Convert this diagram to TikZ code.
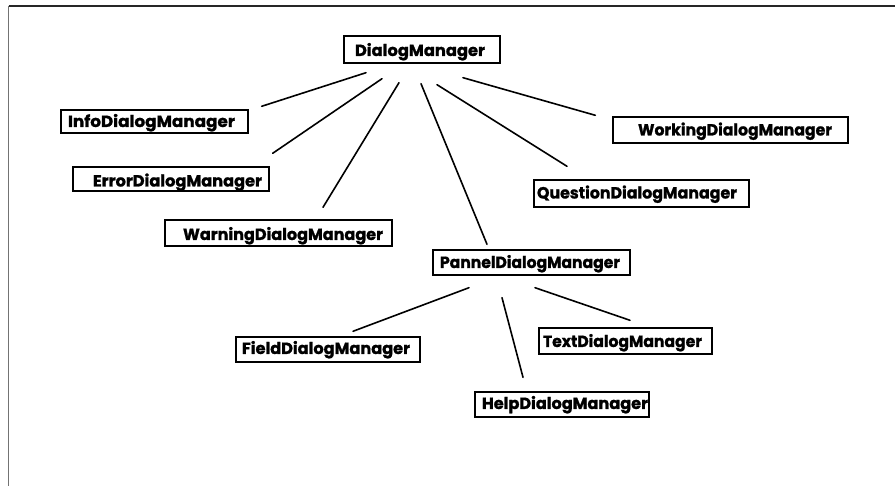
\documentclass[tikz,border=0pt]{standalone}
\usepackage{fontspec}
\usepackage{graphicx}
\newfontfamily\lblfont{Poppins}[BoldFeatures={FakeBold=1.2}]
% #1 box width, #2 left pad, #3 text width, #4 baseline below centre, #5 text
\newcommand\lbl[5]{\makebox[#1pt][l]{\hspace*{#2pt}\smash{\raisebox{-#4pt}{\resizebox{#3pt}{13pt}{\lblfont\bfseries #5}}}\hfill}}
\tikzset{
  cls/.style={draw=black, line width=1.4pt, inner sep=0pt, fill=white},
  link/.style={draw=black, line width=1.6pt, line cap=round},
  frame/.style={line width=1.4pt}
}
\begin{document}
\begin{tikzpicture}[x=1pt,y=-1pt]
\useasboundingbox (0,0) rectangle (895,486);
% frame
\coordinate (tl) at (8.5,6);
\coordinate (tr) at (895,6);
\coordinate (bl) at (8.5,486);
\draw[frame, black!85] (tl) -- (tr);
\draw[frame, black!55] (tl) -- (bl);

% classes
\node[cls, minimum width=156pt, minimum height=27pt] (dm) at (422,49.5) {\lbl{156}{11}{130}{6.5}{DialogManager}};
\node[cls, minimum width=187pt, minimum height=23pt] (info) at (154.5,121.5) {\lbl{187}{7}{167}{5.5}{InfoDialogManager}};
\node[cls, minimum width=196pt, minimum height=24pt] (err) at (171,179) {\lbl{196}{20}{169}{7.5}{ErrorDialogManager}};
\node[cls, minimum width=227pt, minimum height=26pt] (warn) at (278.5,233) {\lbl{227}{18}{200}{7}{WarningDialogManager}};
\node[cls, minimum width=235pt, minimum height=26pt] (work) at (730.5,130) {\lbl{235}{25}{194}{5.5}{WorkingDialogManager}};
\node[cls, minimum width=215pt, minimum height=27pt] (quest) at (641.5,193.5) {\lbl{215}{3}{200}{5}{QuestionDialogManager}};
\node[cls, minimum width=197pt, minimum height=25pt] (pan) at (531.5,262.5) {\lbl{197}{7}{180}{5.5}{PannelDialogManager}};
\node[cls, minimum width=184pt, minimum height=25pt] (field) at (328,349.5) {\lbl{184}{6}{168}{4.5}{FieldDialogManager}};
\node[cls, minimum width=173pt, minimum height=26pt] (text) at (625.5,341) {\lbl{173}{4}{159}{6}{TextDialogManager}};
\node[cls, minimum width=174pt, minimum height=25pt] (help) at (562,404.5) {\lbl{174}{7}{166}{4.5}{HelpDialogManager}};

% connectors from DialogManager
\draw[link] ([shift={(-56,9)}]dm.south) -- ([shift={(13,-3)}]info.north east);
\draw[link] ([shift={(-40,15)}]dm.south) -- ([shift={(3,-13)}]err.north east);
\draw[link] ([shift={(-23,19)}]dm.south) -- ([shift={(44.5,-12)}]warn.north);
\draw[link] ([shift={(-1,20)}]dm.south) -- ([shift={(-44.5,-5)}]pan.north);
\draw[link] ([shift={(15,21)}]dm.south) -- ([shift={(-74.5,-13)}]quest.north);
\draw[link] ([shift={(41,14)}]dm.south) -- ([shift={(-17,-1)}]work.north west);

% connectors from PannelDialogManager
\draw[link] ([shift={(-62.5,12)}]pan.south) -- ([shift={(25,-5)}]field.north);
\draw[link] ([shift={(-29.5,22)}]pan.south) -- ([shift={(-39,-14)}]help.north);
\draw[link] ([shift={(3.5,12)}]pan.south) -- ([shift={(4.5,-7)}]text.north);
\end{tikzpicture}
\end{document}
